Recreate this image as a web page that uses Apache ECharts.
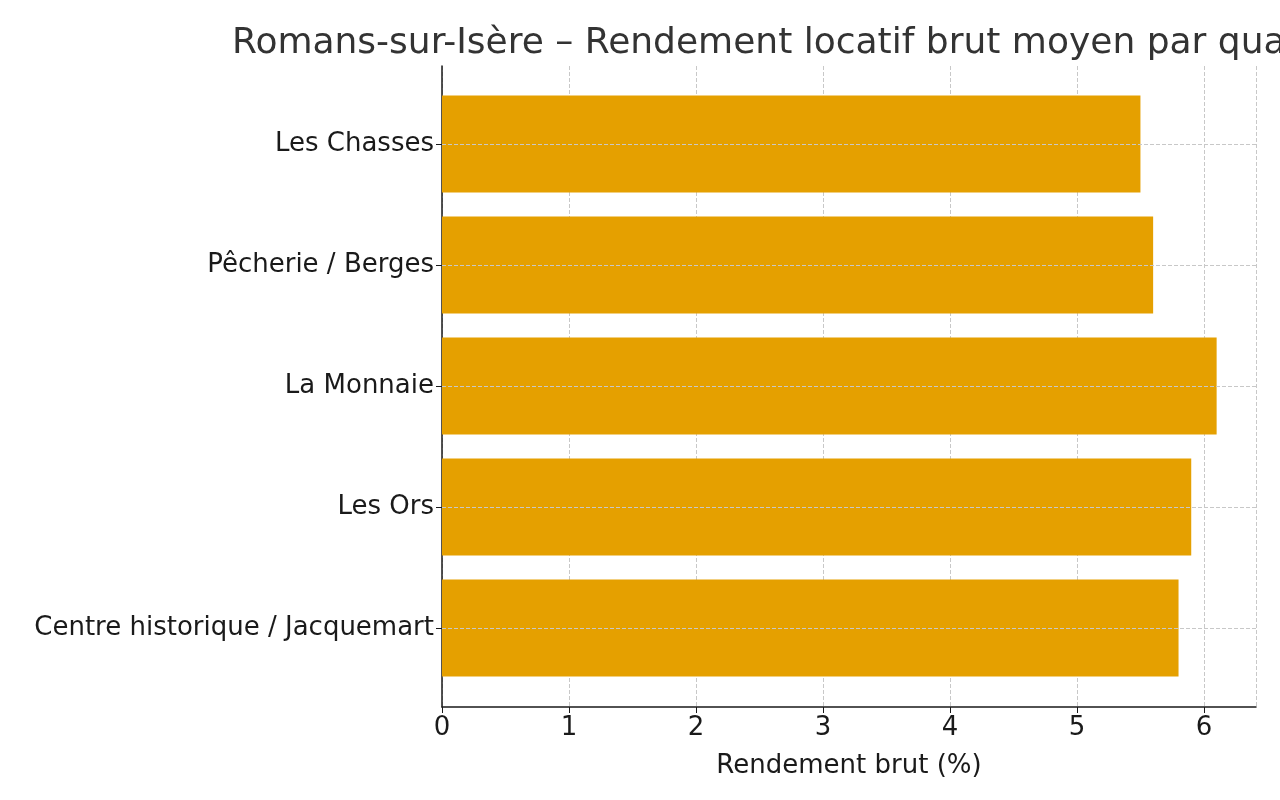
<!DOCTYPE html>
<html>
<head>
<meta charset="utf-8">
<script src="https://cdn.jsdelivr.net/npm/echarts@6/dist/echarts.min.js"></script>
<style>html,body{margin:0;padding:0;background:#fff}#chart{width:1280px;height:800px}</style>
</head>
<body>
<div id="chart"></div>
<script>
// quartiers, du bas vers le haut
var quartiers = ['Centre historique / Jacquemart', 'Les Ors', 'La Monnaie', 'Pêcherie / Berges', 'Les Chasses'];
var rendements = [5.8, 5.9, 6.1, 5.6, 5.5];
var xMax = 6.41;

var chart = echarts.init(document.getElementById('chart'));
var font = 'DejaVu Sans';
var ink = '#1a1a1a';

chart.setOption({
    animation: false,
    title: {
        text: 'Romans-sur-Isère – Rendement locatif brut moyen par quartier',
        left: 227, top: 21,
        textStyle: {fontFamily: font, fontSize: 36, fontWeight: 'normal', color: '#333'}
    },
    grid: [
        // cadre : axes et grille verticale
        {left: 442, top: 66, width: 814, height: 641},
        // barres
        {left: 442, top: 83.5, width: 814, height: 605}
    ],
    xAxis: [{
        gridIndex: 0, type: 'value', min: 0, max: xMax, interval: 1,
        name: 'Rendement brut (%)', nameLocation: 'middle', nameGap: 46,
        nameTextStyle: {fontFamily: font, fontSize: 26, color: ink},
        axisLine: {show: true, lineStyle: {color: ink, width: 1.5}},
        axisTick: {show: true, length: 6, lineStyle: {color: ink}},
        axisLabel: {fontFamily: font, fontSize: 26, color: ink, margin: 8, showMaxLabel: false},
        splitLine: {show: true, lineStyle: {color: '#c8c8c8', type: 'dashed'}}
    }, {
        gridIndex: 1, type: 'value', min: 0, max: xMax, show: false
    }],
    yAxis: [{
        gridIndex: 0, type: 'value', min: 0, max: 1,
        axisLine: {show: true, lineStyle: {color: ink, width: 1.5}},
        axisTick: {show: false}, axisLabel: {show: false}, splitLine: {show: false}
    }, {
        gridIndex: 1, type: 'category', data: quartiers,
        axisLine: {show: false},
        axisTick: {show: true, alignWithLabel: true, length: 6, lineStyle: {color: ink}},
        axisLabel: {fontFamily: font, fontSize: 26, color: ink, margin: 8},
        splitLine: {show: false}
    }],
    series: [{
        type: 'line', xAxisIndex: 1, yAxisIndex: 1, data: [], z: 1, silent: true,
        markLine: {
            symbol: 'none', silent: true, label: {show: false},
            lineStyle: {color: '#c8c8c8', type: 'dashed', width: 1},
            data: quartiers.map(function (q) { return {yAxis: q}; })
        }
    }, {
        type: 'bar', xAxisIndex: 1, yAxisIndex: 1, data: rendements, z: 2,
        barCategoryGap: '20%',
        itemStyle: {color: '#e5a000'}
    }]
});
</script>
</body>
</html>
